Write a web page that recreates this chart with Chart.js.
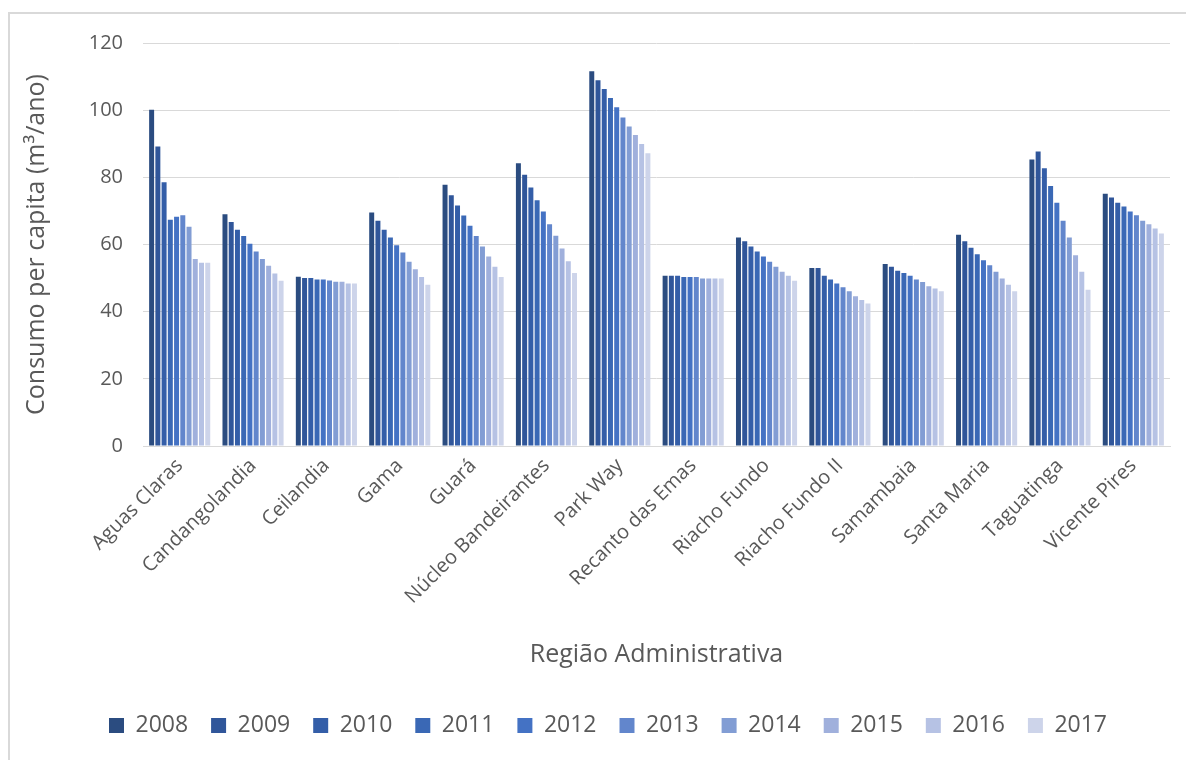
<!DOCTYPE html>
<html>
<head>
<meta charset="utf-8">
<script src="https://cdn.jsdelivr.net/npm/chart.js@4"></script>
<style>
  html, body { margin: 0; padding: 0; background: #fff; overflow: hidden; }
  #frame {
    position: absolute; left: 8px; top: 12px; width: 1300px; height: 900px;
    border: 2px solid #d9d9d9; box-sizing: border-box;
  }
  #wrap { position: absolute; left: 0; top: 0; width: 1186px; height: 760px; }
</style>
</head>
<body>
<div id="frame"></div>
<div id="wrap"><canvas id="myChart" width="1186" height="760"></canvas></div>
<script>
var regioes = ["Aguas Claras", "Candangolandia", "Ceilandia", "Gama", "Guará", "Núcleo Bandeirantes",
  "Park Way", "Recanto das Emas", "Riacho Fundo", "Riacho Fundo II", "Samambaia", "Santa Maria",
  "Taguatinga", "Vicente Pires"];

var anos = ["2008", "2009", "2010", "2011", "2012", "2013", "2014", "2015", "2016", "2017"];

var v2008 = [100.1, 69.0, 50.4, 69.5, 77.8, 84.2, 111.6, 50.7, 62.1, 53.0, 54.2, 62.9, 85.3, 75.1];
var v2009 = [89.2, 66.7, 50.0, 67.1, 74.7, 80.8, 108.9, 50.7, 61.0, 53.0, 53.4, 61.0, 87.7, 74.0];
var v2010 = [78.5, 64.4, 50.0, 64.4, 71.6, 77.0, 106.3, 50.7, 59.4, 50.7, 52.2, 59.0, 82.7, 72.4];
var v2011 = [67.4, 62.5, 49.6, 62.1, 68.6, 73.2, 103.6, 50.3, 57.9, 49.6, 51.5, 57.1, 77.4, 71.3];
var v2012 = [68.3, 60.2, 49.6, 59.8, 65.6, 69.8, 100.9, 50.3, 56.4, 48.4, 50.7, 55.3, 72.4, 69.8];
var v2013 = [68.7, 57.9, 49.3, 57.6, 62.5, 66.0, 97.8, 50.3, 54.9, 47.3, 49.6, 53.8, 67.1, 68.7];
var v2014 = [65.3, 55.7, 48.9, 54.9, 59.4, 62.6, 95.1, 49.9, 53.4, 46.1, 48.8, 51.9, 62.1, 67.1];
var v2015 = [55.7, 53.7, 48.9, 52.6, 56.4, 58.8, 92.6, 49.9, 51.9, 44.6, 47.6, 49.9, 56.8, 66.0];
var v2016 = [54.6, 51.4, 48.4, 50.3, 53.4, 55.0, 89.9, 49.9, 50.7, 43.5, 46.9, 48.0, 51.9, 64.8];
var v2017 = [54.6, 49.2, 48.4, 48.0, 50.3, 51.5, 87.2, 49.9, 49.2, 42.4, 46.1, 46.1, 46.5, 63.3];

var yTicks = [0, 20, 40, 60, 80, 100, 120];

var valores = [v2008, v2009, v2010, v2011, v2012, v2013, v2014, v2015, v2016, v2017];
var cores = ["#2b4c80", "#30569a", "#345ea8", "#3a68b5", "#4472c4",
  "#6286cc", "#829dd4", "#a0b0dc", "#b6c2e4", "#cdd4ea"];

var textColor = "#595959";
var fonte = "'Open Sans', 'Noto Sans', sans-serif";

var datasets = [];
for (var i = 0; i < anos.length; i++) {
  datasets.push({
    label: anos[i],
    data: valores[i],
    backgroundColor: cores[i],
    borderWidth: 0,
    barPercentage: 0.8,
    categoryPercentage: 0.85
  });
}

var ctx = document.getElementById("myChart").getContext("2d");
var chart = new Chart(ctx, {
  type: "bar",
  data: { labels: regioes, datasets: datasets },
  options: {
    responsive: false,
    animation: false,
    layout: { padding: { top: 43, left: 30, right: 0, bottom: 13 } },
    plugins: {
      tooltip: { enabled: false },
      legend: {
        position: "bottom",
        labels: {
          boxWidth: 15,
          boxHeight: 15,
          padding: 23,
          color: textColor,
          font: { family: fonte, size: 23 }
        }
      }
    },
    scales: {
      x: {
        grid: { display: false, drawTicks: false },
        border: { color: "#d9d9d9", width: 1 },
        ticks: {
          color: textColor,
          font: { family: fonte, size: 20 },
          maxRotation: 45,
          minRotation: 45,
          padding: 8,
          autoSkip: false
        },
        title: {
          display: true,
          text: "Região Administrativa",
          color: textColor,
          font: { family: fonte, size: 25 },
          padding: { top: 0, bottom: 21 }
        },
        afterFit: function (scale) { scale.height = 245; }
      },
      y: {
        min: 0,
        max: 120,
        afterBuildTicks: function (scale) {
          scale.ticks = yTicks.map(function (v) { return { value: v }; });
        },
        grid: { color: "#d9d9d9", lineWidth: 1, drawTicks: false },
        border: { display: false },
        ticks: {
          color: textColor,
          font: { family: fonte, size: 20 },
          padding: 20
        },
        title: {
          display: true,
          text: "Consumo per capita (m³/ano)",
          color: textColor,
          font: { family: fonte, size: 25 },
          padding: { top: -8, bottom: 0 }
        },
        afterFit: function (scale) { scale.width = 113; }
      },
      dir: {
        position: "right",
        display: true,
        grid: { display: false, drawTicks: false },
        border: { display: false },
        ticks: { display: false },
        afterFit: function (scale) { scale.width = 16; }
      }
    }
  }
});
</script>
</body>
</html>
